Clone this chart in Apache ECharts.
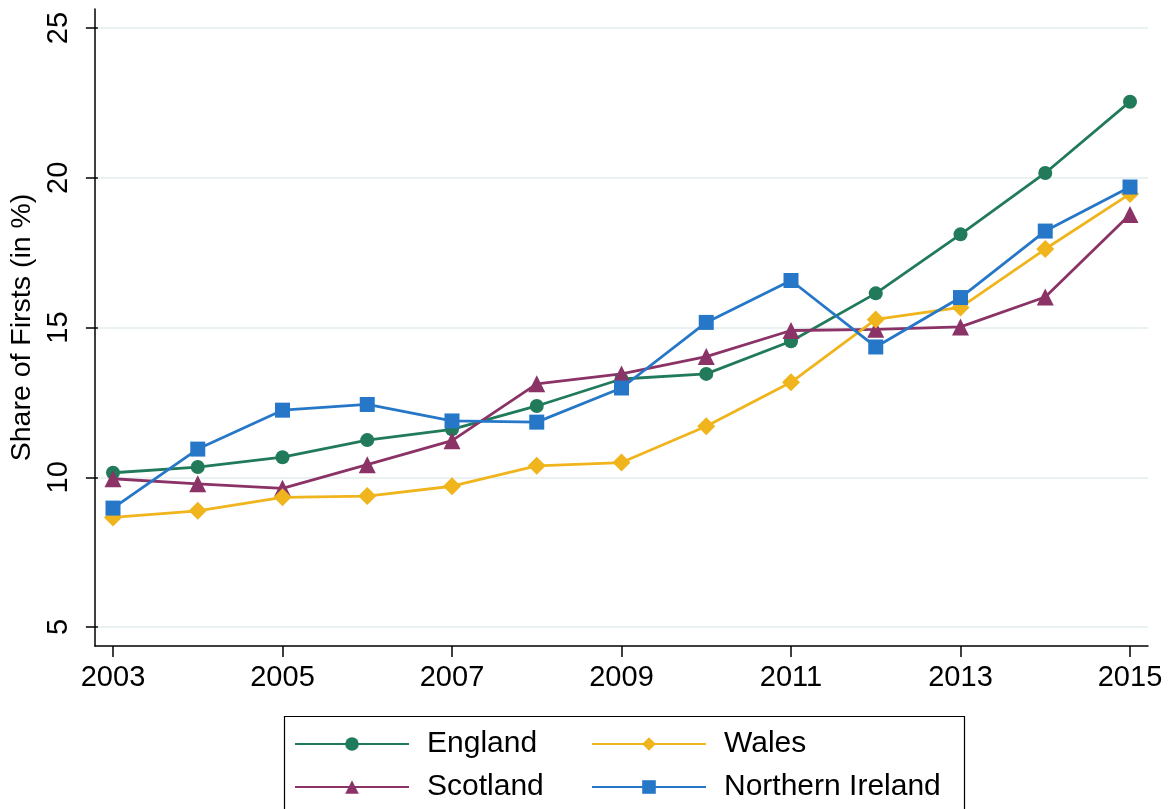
<!DOCTYPE html>
<html>
<head>
<meta charset="utf-8">
<script src="https://cdn.jsdelivr.net/npm/echarts@6/dist/echarts.min.js"></script>
<style>
  html, body { margin: 0; padding: 0; background: #fff; }
  #chart { width: 1175px; height: 809px; }
</style>
</head>
<body>
<div id="chart"></div>
<script>
var years = [2003, 2004, 2005, 2006, 2007, 2008, 2009, 2010, 2011, 2012, 2013, 2014, 2015];
var england = [10.15, 10.34, 10.67, 11.24, 11.6, 12.38, 13.28, 13.45, 14.54, 16.14, 18.11, 20.16, 22.54];
var scotland = [9.95, 9.78, 9.63, 10.42, 11.22, 13.12, 13.45, 14.03, 14.9, 14.94, 15.02, 16.02, 18.77];
var wales = [8.66, 8.88, 9.33, 9.37, 9.7, 10.38, 10.49, 11.7, 13.17, 15.27, 15.67, 17.62, 19.46];
var nireland = [8.97, 10.94, 12.24, 12.43, 11.88, 11.84, 12.98, 15.17, 16.57, 14.35, 16.0, 18.22, 19.69];

var xTicks = [2003, 2015];   // first and last labelled year, labels every 2 years
var yTicks = [5, 25];        // first and last y label, step 5

var font = 'Liberation Sans, Arial, Helvetica, sans-serif';

function pairs(vals) {
  return years.map(function (y, i) { return [y, vals[i]]; });
}

var myChart = echarts.init(document.getElementById('chart'), null, { renderer: 'canvas' });

var lineStyle = function (c) { return { color: c, width: 2.8 }; };

// one small legend per entry so the two columns line up like the original
function legendItem(name, left, top) {
  return {
    orient: 'horizontal', left: left, top: top, padding: 0,
    itemWidth: 114, itemHeight: 17,
    formatter: function (n) { return '{t|' + n + '}'; },
    textStyle: {
      color: '#000', fontFamily: font, fontSize: 30,
      rich: { t: { color: '#000', fontFamily: font, fontSize: 30, padding: [0, 0, 0, 13] } }
    },
    data: [name]
  };
}

option = {
  animation: false,
  backgroundColor: '#fff',
  textStyle: { fontFamily: font },
  grid: [
    // outer frame: axis lines only
    { left: 95, right: 27, top: 9, bottom: 163 },
    // y ticks, labels and grid lines
    { left: 95, right: 27, top: 28, bottom: 182 },
    // data
    { left: 113, right: 45, top: 28, bottom: 182 }
  ],
  xAxis: [
    {
      gridIndex: 0, type: 'value', min: 0, max: 1,
      axisLine: { show: true, lineStyle: { color: '#000', width: 1.5 } },
      axisTick: { show: false }, axisLabel: { show: false }, splitLine: { show: false }
    },
    {
      gridIndex: 1, type: 'value', min: 0, max: 1, show: false
    },
    {
      gridIndex: 2, type: 'value', min: xTicks[0], max: xTicks[1], interval: 2,
      offset: 19,
      axisLine: { show: false },
      axisTick: { show: true, length: 11, lineStyle: { color: '#000', width: 1.5 } },
      axisLabel: {
        show: true, margin: 17, fontSize: 29, color: '#000', fontFamily: font,
        formatter: function (v) { return String(v); }
      },
      splitLine: { show: false }
    }
  ],
  yAxis: [
    {
      gridIndex: 0, type: 'value', min: 0, max: 1,
      axisLine: { show: true, lineStyle: { color: '#000', width: 1.5 } },
      axisTick: { show: false }, axisLabel: { show: false }, splitLine: { show: false }
    },
    {
      gridIndex: 1, type: 'value', min: yTicks[0], max: yTicks[1], interval: 5,
      name: 'Share of Firsts (in %)',
      nameLocation: 'middle', nameRotate: 90, nameGap: 58,
      nameTextStyle: { fontSize: 28.5, color: '#000', fontFamily: font },
      axisLine: { show: false },
      axisTick: { show: true, length: 12, lineStyle: { color: '#000', width: 1.5 } },
      axisLabel: { show: true, rotate: 90, margin: 24, fontSize: 29, color: '#000', fontFamily: font },
      splitLine: { show: true, lineStyle: { color: '#e9f1f2', width: 2 } }
    },
    {
      gridIndex: 2, type: 'value', min: yTicks[0], max: yTicks[1], show: false
    }
  ],
  legend: [
    legendItem('England', 294, 729),
    legendItem('Scotland', 294, 772),
    legendItem('Wales', 591, 729),
    legendItem('Northern Ireland', 591, 772)
  ],
  graphic: [
    {
      type: 'rect', left: 282, top: 714,
      shape: { width: 680, height: 130 },
      style: { fill: 'none', stroke: '#000', lineWidth: 1.2 },
      silent: true
    }
  ],
  series: [
    {
      name: 'England', type: 'line', xAxisIndex: 2, yAxisIndex: 2,
      data: pairs(england), symbol: 'circle', symbolSize: 14,
      itemStyle: { color: '#217a59' }, lineStyle: lineStyle('#217a59')
    },
    {
      name: 'Scotland', type: 'line', xAxisIndex: 2, yAxisIndex: 2,
      data: pairs(scotland), symbol: 'triangle', symbolSize: 17,
      itemStyle: { color: '#8b3366' }, lineStyle: lineStyle('#8b3366')
    },
    {
      name: 'Wales', type: 'line', xAxisIndex: 2, yAxisIndex: 2,
      data: pairs(wales), symbol: 'diamond', symbolSize: 18,
      itemStyle: { color: '#f0b41c' }, lineStyle: lineStyle('#f0b41c')
    },
    {
      name: 'Northern Ireland', type: 'line', xAxisIndex: 2, yAxisIndex: 2,
      data: pairs(nireland), symbol: 'rect', symbolSize: 15,
      itemStyle: { color: '#2677c7' }, lineStyle: lineStyle('#2677c7')
    }
  ]
};
myChart.setOption(option);
</script>
</body>
</html>
